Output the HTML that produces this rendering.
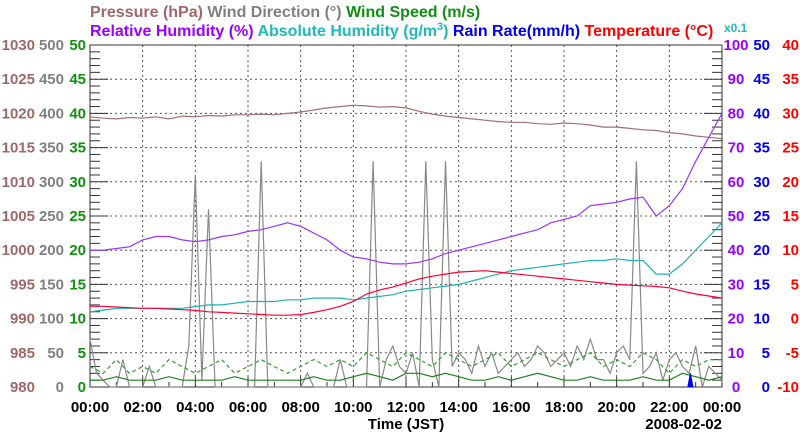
<!DOCTYPE html>
<html><head><meta charset="utf-8"><style>
body{margin:0;background:#fff;width:800px;height:434px;overflow:hidden}
svg{display:block;font-family:"Liberation Sans",sans-serif;font-weight:bold}
</style></head><body>
<svg id="c" width="800" height="434">
<text x="90" y="17" font-size="16"><tspan fill="#a06868">Pressure (hPa)</tspan> <tspan fill="#808080">Wind Direction (°)</tspan> <tspan fill="#109010">Wind Speed (m/s)</tspan></text>
<text x="90" y="36" font-size="16"><tspan fill="#9900ff">Relative Humidity (%)</tspan> <tspan fill="#20b8b8">Absolute Humidity (g/m<tspan dy="-6" font-size="11">3</tspan><tspan dy="6">)</tspan></tspan> <tspan fill="#0000ee">Rain Rate(mm/h)</tspan> <tspan fill="#ff0000">Temperature (°C)</tspan></text>
<text x="724" y="32" font-size="12" fill="#20b8b8">x0.1</text>
<text x="406" y="429" font-size="15" text-anchor="middle" fill="#000">Time (JST)</text>
<text x="722" y="429" font-size="15" text-anchor="end" fill="#000">2008-02-02</text>
</svg>
<script>
const xTickLabels=["00:00","02:00","04:00","06:00","08:00","10:00","12:00","14:00","16:00","18:00","20:00","22:00","00:00"];
const pressureTicks=[980,985,990,995,1000,1005,1010,1015,1020,1025,1030];
const windDirTicks=[0,50,100,150,200,250,300,350,400,450,500];
const windSpdTicks=[0,5,10,15,20,25,30,35,40,45,50];
const rhTicks=[0,10,20,30,40,50,60,70,80,90,100];
const rainTicks=[0,5,10,15,20,25,30,35,40,45,50];
const tempTicks=[-10,-5,0,5,10,15,20,25,30,35,40];
const pressure=[1019.5,1019.3,1019.2,1019.4,1019.3,1019.5,1019.2,1019.6,1019.5,1019.7,1019.6,1019.8,1019.8,1019.9,1019.8,1020.0,1020.2,1020.5,1020.8,1021.0,1021.2,1021.1,1020.9,1021.0,1020.8,1020.3,1019.9,1019.6,1019.4,1019.2,1019.0,1018.8,1018.7,1018.7,1018.5,1018.4,1018.6,1018.5,1018.3,1018.0,1018.0,1017.8,1017.6,1017.5,1017.2,1017.0,1016.7,1016.5,1016.3];
const relHumidity=[40,40,40.5,41,43,44,44,43,42.5,43,44,44.5,45.5,46,47,48,47,45,43,40,38,37.5,36.5,36,36,36.5,37.5,39,40,41,42,43,44,45,46,48,49,50,53,53.5,54,55,55.5,50,53,58,66,73,80];
const absHumidity=[22,22.5,23,23,23,23,23,23,23.5,24,24,24.5,25,25,25,25.5,25.5,26,26,26,25.5,26,26.5,27,28,28.5,29,29.5,30,31,32,33,34,34.5,35,35.5,36,36.5,37,37,37.5,37,37,33,33,36,40,44,48];
const temperature=[1.8,1.8,1.7,1.6,1.5,1.5,1.4,1.3,1.2,1.0,0.9,0.8,0.7,0.6,0.5,0.5,0.6,0.9,1.3,1.8,2.5,3.6,4.2,4.6,5.2,5.8,6.2,6.5,6.8,6.9,7.0,6.8,6.6,6.4,6.2,6.0,5.8,5.6,5.4,5.2,5.0,4.9,4.8,4.7,4.5,4.0,3.6,3.3,3.0];
const windSpeed=[1,1,1.5,1,1,1,1.5,1,1,1,1,1.5,1,1,1,1,1,1.5,1,1,1.5,2,1.5,1,2,2,1.5,2,1.5,1,1,1.5,1,1.5,2,1.5,1,1,1.5,1,1,1,1.5,1,1,2,1.5,1,1.5];
const windGust=[3,2,4,2,3,2,4,3,2,3,4,2,3,4,3,2,3,4,3,4,3,5,4,3,5,4,3,5,4,3,4,5,3,4,5,4,3,4,5,3,4,3,5,4,2,4,3,4,4];
const windDir=[70,20,10,0,0,40,0,0,0,30,0,0,0,0,0,60,310,10,260,0,0,0,0,0,0,0,330,0,0,0,0,0,0,20,0,0,0,0,40,0,0,0,0,330,0,40,60,30,20,50,0,330,40,0,330,30,50,40,20,60,30,50,20,30,40,50,30,40,60,50,30,40,50,30,60,40,70,40,40,20,50,60,40,330,20,30,50,10,40,50,30,20,60,0,30,20,10];
const rainHours=[22.7,22.8,22.9];
const rainRate=[0,2,0];

const NS="http://www.w3.org/2000/svg",svg=document.getElementById('c');
const L=90,R=722,T=45,B=387;
const xs=h=>L+(R-L)*h/24;
const ys=(v,lo,hi)=>B-(B-T)*(v-lo)/(hi-lo);
function mk(tag,at,parent){const e=document.createElementNS(NS,tag);for(const k in at)e.setAttribute(k,at[k]);(parent||svg).appendChild(e);return e;}
for(let i=1;i<12;i++){const x=xs(i*2);const g=mk('line',{x1:x,x2:x,y1:T,y2:B,stroke:'#555','stroke-dasharray':'2,3','stroke-width':1});

}
for(let i=1;i<10;i++){const y=T+(B-T)*i/10;const g=mk('line',{x1:L,x2:R,y1:y,y2:y,stroke:'#555','stroke-dasharray':'2,3','stroke-width':1});

}
for(let i=0;i<=50;i++){const y=T+(B-T)*i/50;const len=i%5==0?18:10;
const a=mk('line',{x1:L,x2:L+len,y1:y,y2:y,stroke:'#333'});


const b=mk('line',{x1:R-len,x2:R,y1:y,y2:y,stroke:'#333'});

}
for(let i=0;i<=24;i++){const x=xs(i);const t=mk('line',{x1:x,x2:x,y1:B,y2:B-(i%2==0?10:5),stroke:'#333'});

}
const fr=mk('rect',{x:L,y:T,width:R-L,height:B-T,fill:'none',stroke:'#333'});


function txt(s,x,y,anchor,fill,name){const t=mk('text',{x:x,y:y,'text-anchor':anchor,fill:fill,'font-size':15});t.textContent=s;

}
for(let i=0;i<11;i++){const y=ys(i,0,10)+5;
txt(pressureTicks[i],35,y,'end','#a06868','pressure-tick-label');
txt(windDirTicks[i],64,y,'end','#808080','wind-direction-tick-label');
txt(windSpdTicks[i],86,y,'end','#109010','wind-speed-tick-label');
txt(rhTicks[i],736,y,'middle','#9900ff','humidity-tick-label');
txt(rainTicks[i],770,y,'end','#0000ee','rain-tick-label');
txt(tempTicks[i],799,y,'end','#ff0000','temperature-tick-label');}
xTickLabels.forEach((s,i)=>txt(s,xs(i*2),412,'middle','#000','x-tick-label'));
function line(vals,step,lo,hi,color,name,extra){const pts=vals.map((v,i)=>xs(i*step).toFixed(1)+','+ys(v,lo,hi).toFixed(1)).join(' ');
const p=mk('polyline',Object.assign({points:pts,fill:'none',stroke:color,'stroke-width':1.2},extra||{}));

}
line(windDir,0.25,0,500,'#888','wind-direction-line');
line(windGust,0.5,0,50,'#30a030','wind-gust-line',{'stroke-dasharray':'4,3'});
line(windSpeed,0.5,0,50,'#208020','wind-speed-line');
const rp=mk('polygon',{points:rainHours.map((h,i)=>xs(h).toFixed(1)+','+ys(rainRate[i],0,50).toFixed(1)).join(' '),fill:'#0000ee',stroke:'#0000ee'});


line(pressure,0.5,980,1030,'#a07070','pressure-line');
line(absHumidity,0.5,0,100,'#20b0b0','absolute-humidity-line');
line(temperature,0.5,-10,40,'#ff0030','temperature-line');
line(relHumidity,0.5,0,100,'#9933ff','relative-humidity-line');
</script>
</body></html>
